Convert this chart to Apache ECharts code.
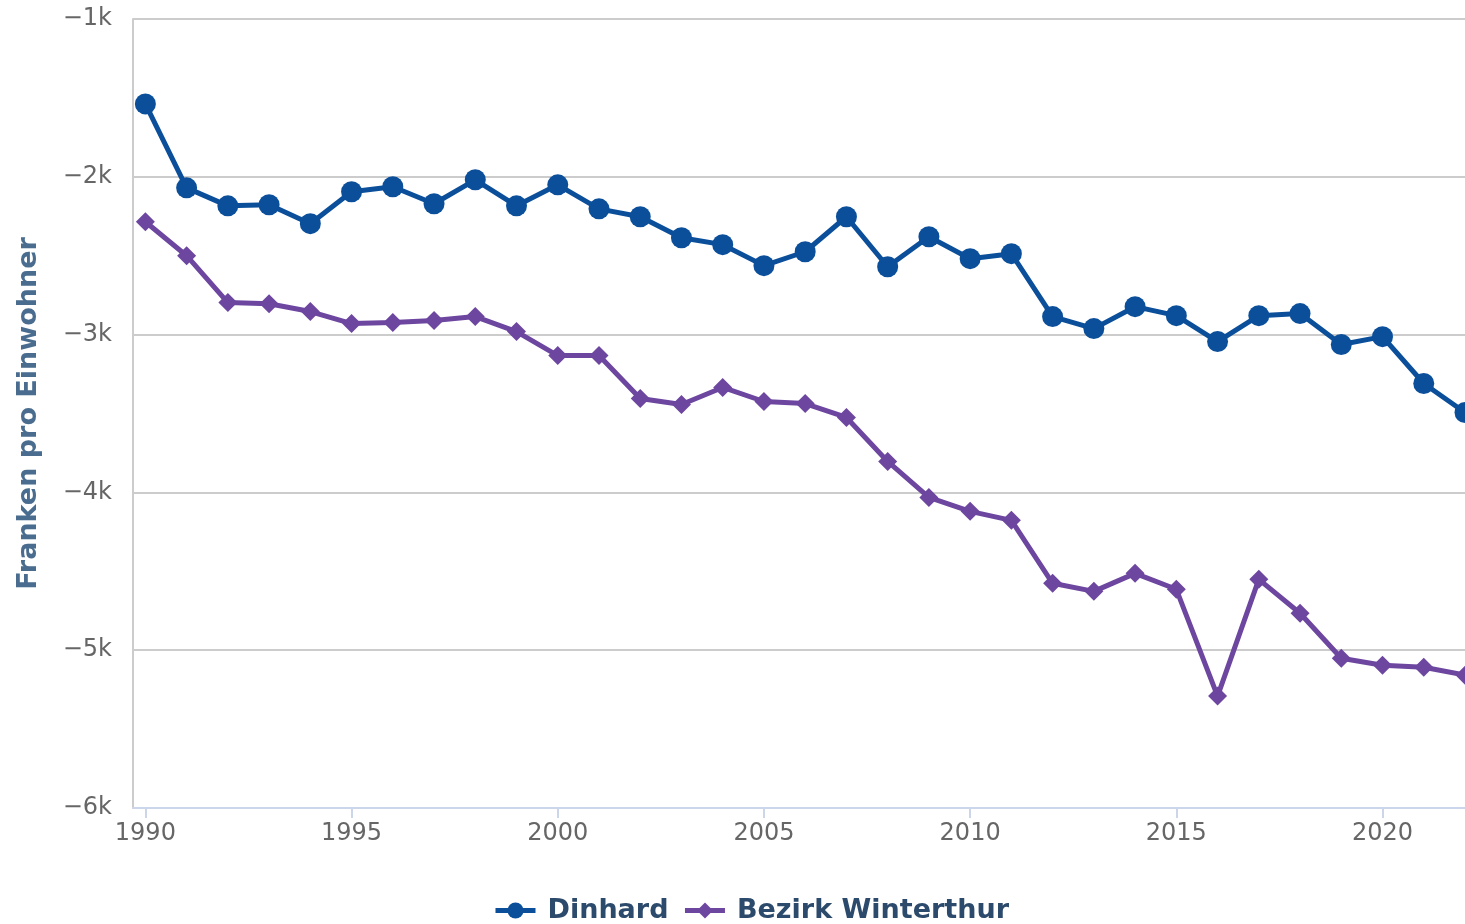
<!DOCTYPE html>
<html lang="de">
<head>
    <meta charset="UTF-8">
    <title>Franken pro Einwohner</title>
    <script src="https://cdn.jsdelivr.net/npm/echarts@6/dist/echarts.min.js"></script>
    <style>
        html, body { margin: 0; padding: 0; background: #fff; }
        #main { width: 1465px; height: 924px; }
    </style>
</head>
<body>
<div id="main"></div>
<script type="text/javascript">
    // Jahre und Werte (Franken pro Einwohner)
    var years = [1990, 1991, 1992, 1993, 1994, 1995, 1996, 1997, 1998, 1999,
                 2000, 2001, 2002, 2003, 2004, 2005, 2006, 2007, 2008, 2009,
                 2010, 2011, 2012, 2013, 2014, 2015, 2016, 2017, 2018, 2019,
                 2020, 2021, 2022];
    var dinhard = [-1538, -2070, -2184, -2177, -2297, -2095, -2063, -2171, -2019, -2184,
                   -2051, -2203, -2253, -2386, -2430, -2563, -2475, -2253, -2570, -2380,
                   -2519, -2487, -2886, -2962, -2823, -2880, -3044, -2880, -2867, -3063,
                   -3013, -3310, -3494];
    var winterthur = [-2285, -2500, -2797, -2804, -2854, -2930, -2924, -2911, -2886, -2981,
                      -3133, -3133, -3405, -3443, -3335, -3424, -3437, -3525, -3804, -4032,
                      -4120, -4177, -4576, -4627, -4513, -4614, -5291, -4551, -4766, -5051,
                      -5095, -5108, -5158];
    var xTicks = [1990, 1995, 2000, 2005, 2010, 2015, 2020];

    function pairs(vals) {
        return years.map(function (y, i) { return [y, vals[i]]; });
    }

    var font = 'DejaVu Sans';
    var myChart = echarts.init(document.getElementById('main'));

    var option = {
        animation: false,
        textStyle: { fontFamily: font },
        grid: { left: 133, right: 0, top: 19, bottom: 116, containLabel: false },
        legend: {
            bottom: -5,
            left: 488,
            itemWidth: 40,
            itemHeight: 20,
            itemGap: 14,
            lineStyle: { width: 5 },
            textStyle: {
                fontFamily: font, fontSize: 27, fontWeight: 'bold', color: '#2c4a6b',
                padding: [0, 0, 0, 7]
            },
            data: ['Dinhard', 'Bezirk Winterthur']
        },
        xAxis: {
            type: 'value',
            min: 1989.7,
            max: 2022,
            axisLine: { show: true, lineStyle: { color: '#ccd6eb', width: 2 } },
            axisTick: { show: true, customValues: xTicks, length: 10, lineStyle: { color: '#ccd6eb', width: 2 } },
            axisLabel: {
                customValues: xTicks, color: '#666', fontSize: 24, margin: 14,
                formatter: function (v) { return String(v); }
            },
            splitLine: { show: false }
        },
        yAxis: {
            type: 'value',
            min: -6000,
            max: -1000,
            interval: 1000,
            name: 'Franken pro Einwohner',
            nameLocation: 'middle',
            nameRotate: 90,
            nameGap: 91,
            nameTextStyle: { color: '#4a6d8f', fontSize: 27, fontWeight: 'bold' },
            axisLine: { show: true, lineStyle: { color: '#cccccc', width: 2 } },
            axisTick: { show: false },
            axisLabel: {
                color: '#666', fontSize: 24, margin: 21,
                formatter: function (v) { return '\u2212' + Math.abs(v / 1000) + 'k'; }
            },
            splitLine: { lineStyle: { color: '#cccccc', width: 2 } }
        },
        series: [
            {
                name: 'Dinhard',
                type: 'line',
                data: pairs(dinhard),
                symbol: 'circle',
                symbolSize: 21,
                lineStyle: { width: 5, color: '#0b4f9b' },
                itemStyle: { color: '#0b4f9b' },
                z: 3
            },
            {
                name: 'Bezirk Winterthur',
                type: 'line',
                data: pairs(winterthur),
                symbol: 'diamond',
                symbolSize: 19,
                lineStyle: { width: 5, color: '#6d46a0' },
                itemStyle: { color: '#6d46a0' },
                z: 2
            }
        ]
    };

    myChart.setOption(option);
</script>
</body>
</html>
